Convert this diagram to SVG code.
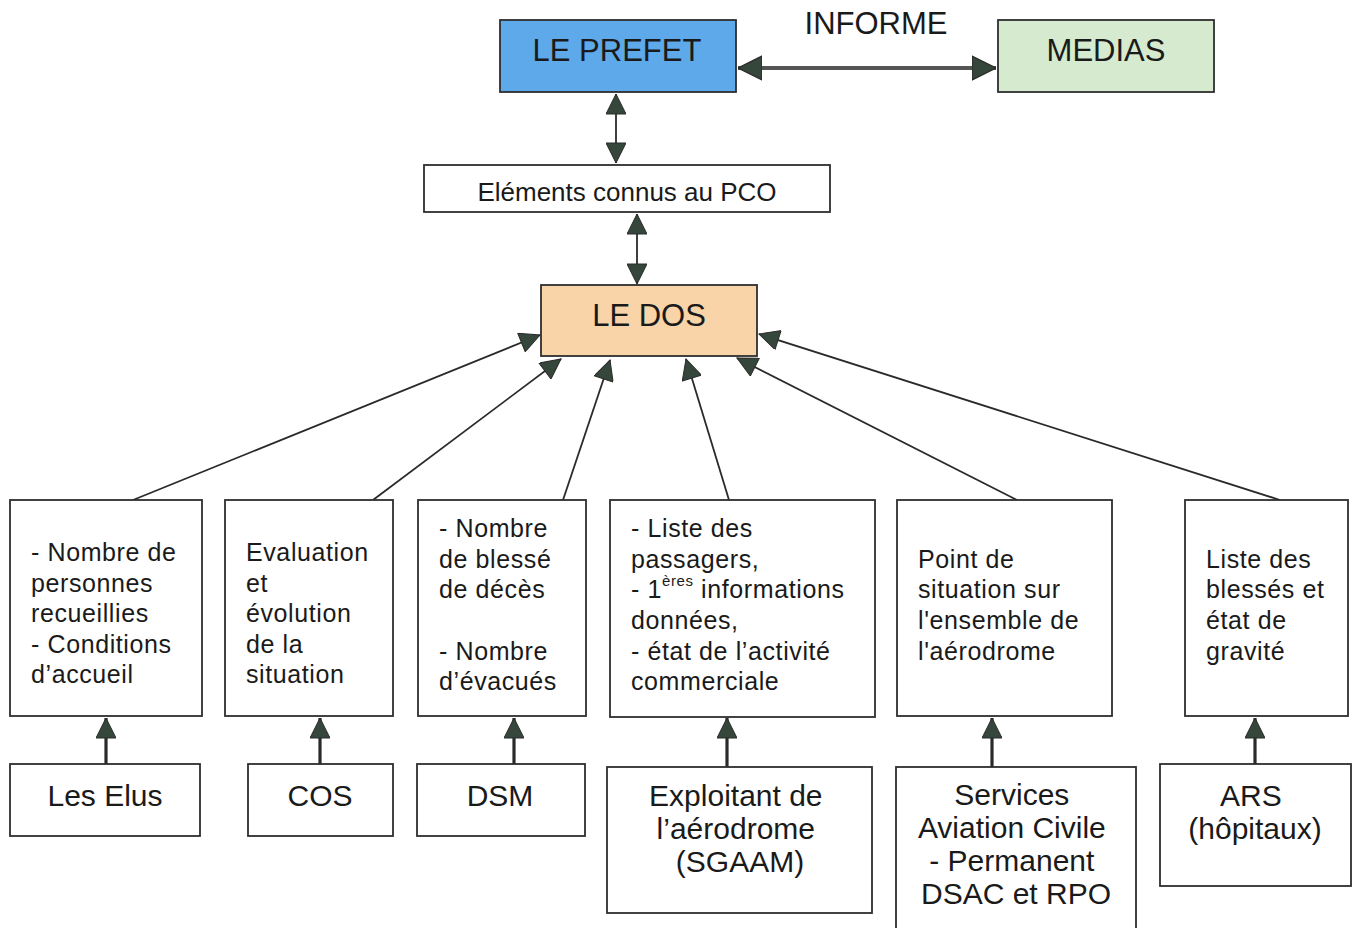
<svg xmlns="http://www.w3.org/2000/svg" width="1354" height="928" viewBox="0 0 1354 928">
<style>
  text { font-family: "Liberation Sans", Arial, sans-serif; fill: #1a1a1a; }
  .box { fill: #ffffff; stroke: #2e2e2e; stroke-width: 1.8; }
  .big { font-size: 31px; text-anchor: middle; }
  .body { font-size: 25px; letter-spacing: 0.6px; }
  .src { font-size: 30px; text-anchor: middle; }
  .thin { stroke: #2a2a2a; stroke-width: 1.8; fill: none; }
  .thick { stroke: #2a2a2a; stroke-width: 3.2; fill: none; }
  .dbl { stroke: #555; stroke-width: 4; fill: none; }
</style>
<defs>
  <marker id="ah" viewBox="0 0 10 10" refX="10" refY="5" markerUnits="userSpaceOnUse" markerWidth="23" markerHeight="20" orient="auto-start-reverse">
    <path d="M0,0 L10,5 L0,10 z" fill="#35463b" stroke="#2a2a2a" stroke-width="0.5"/>
  </marker>
  <marker id="ahh" viewBox="0 0 10 10" refX="10" refY="5" markerUnits="userSpaceOnUse" markerWidth="24" markerHeight="26" orient="auto-start-reverse">
    <path d="M0,0 L10,5 L0,10 z" fill="#35463b" stroke="#2a2a2a" stroke-width="0.5"/>
  </marker>
  <marker id="ahv" viewBox="0 0 10 10" refX="10" refY="5" markerUnits="userSpaceOnUse" markerWidth="22" markerHeight="20" orient="auto-start-reverse">
    <path d="M0,0 L10,5 L0,10 z" fill="#35463b" stroke="#2a2a2a" stroke-width="0.5"/>
  </marker>
</defs>
<rect width="1354" height="928" fill="#ffffff"/>

<g id="connectors">
  <line class="dbl" x1="738" y1="68" x2="996" y2="68" marker-start="url(#ahh)" marker-end="url(#ahh)"/>
  <line class="thin" x1="616" y1="94" x2="616" y2="163" marker-start="url(#ah)" marker-end="url(#ah)"/>
  <line class="thin" x1="637" y1="214" x2="637" y2="284" marker-start="url(#ah)" marker-end="url(#ah)"/>
  <line class="thin" x1="133" y1="500" x2="540" y2="335" marker-end="url(#ah)"/>
  <line class="thin" x1="373" y1="500" x2="561" y2="359" marker-end="url(#ah)"/>
  <line class="thin" x1="563" y1="500" x2="610" y2="360" marker-end="url(#ah)"/>
  <line class="thin" x1="729" y1="500" x2="686" y2="359" marker-end="url(#ah)"/>
  <line class="thin" x1="1017" y1="500" x2="737" y2="358" marker-end="url(#ah)"/>
  <line class="thin" x1="1280" y1="500" x2="759" y2="334" marker-end="url(#ah)"/>
  <line class="thick" x1="106" y1="764" x2="106" y2="718" marker-end="url(#ahv)"/>
  <line class="thick" x1="320" y1="764" x2="320" y2="718" marker-end="url(#ahv)"/>
  <line class="thick" x1="514" y1="764" x2="514" y2="718" marker-end="url(#ahv)"/>
  <line class="thick" x1="727" y1="767" x2="727" y2="718" marker-end="url(#ahv)"/>
  <line class="thick" x1="992" y1="767" x2="992" y2="718" marker-end="url(#ahv)"/>
  <line class="thick" x1="1255" y1="764" x2="1255" y2="718" marker-end="url(#ahv)"/>
</g>

<g id="informe-label">
  <text class="big" x="876" y="34">INFORME</text>
</g>

<g id="prefet">
  <rect x="500" y="20" width="236" height="72" fill="#5ea9ea" stroke="#2e2e2e" stroke-width="1.8"/>
  <text class="big" x="617" y="61">LE PREFET</text>
</g>

<g id="medias">
  <rect x="998" y="20" width="216" height="72" fill="#d5eace" stroke="#2e2e2e" stroke-width="1.8"/>
  <text class="big" x="1106" y="61">MEDIAS</text>
</g>

<g id="pco">
  <rect class="box" x="424" y="165" width="406" height="47"/>
  <text x="627" y="201" font-size="26" text-anchor="middle">Eléments connus au PCO</text>
</g>

<g id="dos">
  <rect x="541" y="285" width="216" height="71" fill="#f8d4a8" stroke="#2e2e2e" stroke-width="1.8"/>
  <text class="big" x="649" y="326">LE DOS</text>
</g>

<g id="info-elus">
  <rect class="box" x="10" y="500" width="192" height="216"/>
  <text class="body">
    <tspan x="31" y="561">- Nombre de</tspan>
    <tspan x="31" y="592">personnes</tspan>
    <tspan x="31" y="622">recueillies</tspan>
    <tspan x="31" y="653">- Conditions</tspan>
    <tspan x="31" y="683">d’accueil</tspan>
  </text>
</g>

<g id="info-cos">
  <rect class="box" x="225" y="500" width="168" height="216"/>
  <text class="body">
    <tspan x="246" y="561">Evaluation</tspan>
    <tspan x="246" y="592">et</tspan>
    <tspan x="246" y="622">évolution</tspan>
    <tspan x="246" y="653">de la</tspan>
    <tspan x="246" y="683">situation</tspan>
  </text>
</g>

<g id="info-dsm">
  <rect class="box" x="418" y="500" width="168" height="216"/>
  <text class="body">
    <tspan x="439" y="537">- Nombre</tspan>
    <tspan x="439" y="568">de blessé</tspan>
    <tspan x="439" y="598">de décès</tspan>
    <tspan x="439" y="660">- Nombre</tspan>
    <tspan x="439" y="690">d’évacués</tspan>
  </text>
</g>

<g id="info-exploitant">
  <rect class="box" x="610" y="500" width="265" height="217"/>
  <text class="body">
    <tspan x="631" y="537">- Liste des</tspan>
    <tspan x="631" y="568">passagers,</tspan>
    <tspan x="631" y="598">- 1<tspan font-size="15" dy="-12">ères</tspan><tspan dy="12"> informations</tspan></tspan>
    <tspan x="631" y="629">données,</tspan>
    <tspan x="631" y="660">- état de l’activité</tspan>
    <tspan x="631" y="690">commerciale</tspan>
  </text>
</g>

<g id="info-services">
  <rect class="box" x="897" y="500" width="215" height="216"/>
  <text class="body">
    <tspan x="918" y="568">Point de</tspan>
    <tspan x="918" y="598">situation sur</tspan>
    <tspan x="918" y="629">l'ensemble de</tspan>
    <tspan x="918" y="660">l'aérodrome</tspan>
  </text>
</g>

<g id="info-ars">
  <rect class="box" x="1185" y="500" width="163" height="216"/>
  <text class="body">
    <tspan x="1206" y="568">Liste des</tspan>
    <tspan x="1206" y="598">blessés et</tspan>
    <tspan x="1206" y="629">état de</tspan>
    <tspan x="1206" y="660">gravité</tspan>
  </text>
</g>

<g id="elus">
  <rect class="box" x="10" y="764" width="190" height="72"/>
  <text class="src" x="105" y="806">Les Elus</text>
</g>

<g id="cos">
  <rect class="box" x="248" y="764" width="145" height="72"/>
  <text class="src" x="320" y="806">COS</text>
</g>

<g id="dsm">
  <rect class="box" x="417" y="764" width="168" height="72"/>
  <text class="src" x="500" y="806">DSM</text>
</g>

<g id="exploitant">
  <rect class="box" x="607" y="767" width="265" height="146"/>
  <text class="src">
    <tspan x="740" y="806">Exploitant de</tspan>
    <tspan x="740" y="839">l’aérodrome</tspan>
    <tspan x="740" y="872">(SGAAM)</tspan>
  </text>
</g>

<g id="services">
  <rect class="box" x="896" y="767" width="240" height="180"/>
  <text class="src">
    <tspan x="1016" y="805">Services</tspan>
    <tspan x="1016" y="838">Aviation Civile</tspan>
    <tspan x="1016" y="871">- Permanent</tspan>
    <tspan x="1016" y="904">DSAC et RPO</tspan>
  </text>
</g>

<g id="ars">
  <rect class="box" x="1160" y="764" width="191" height="122"/>
  <text class="src">
    <tspan x="1255" y="806">ARS</tspan>
    <tspan x="1255" y="839">(hôpitaux)</tspan>
  </text>
</g>
</svg>
